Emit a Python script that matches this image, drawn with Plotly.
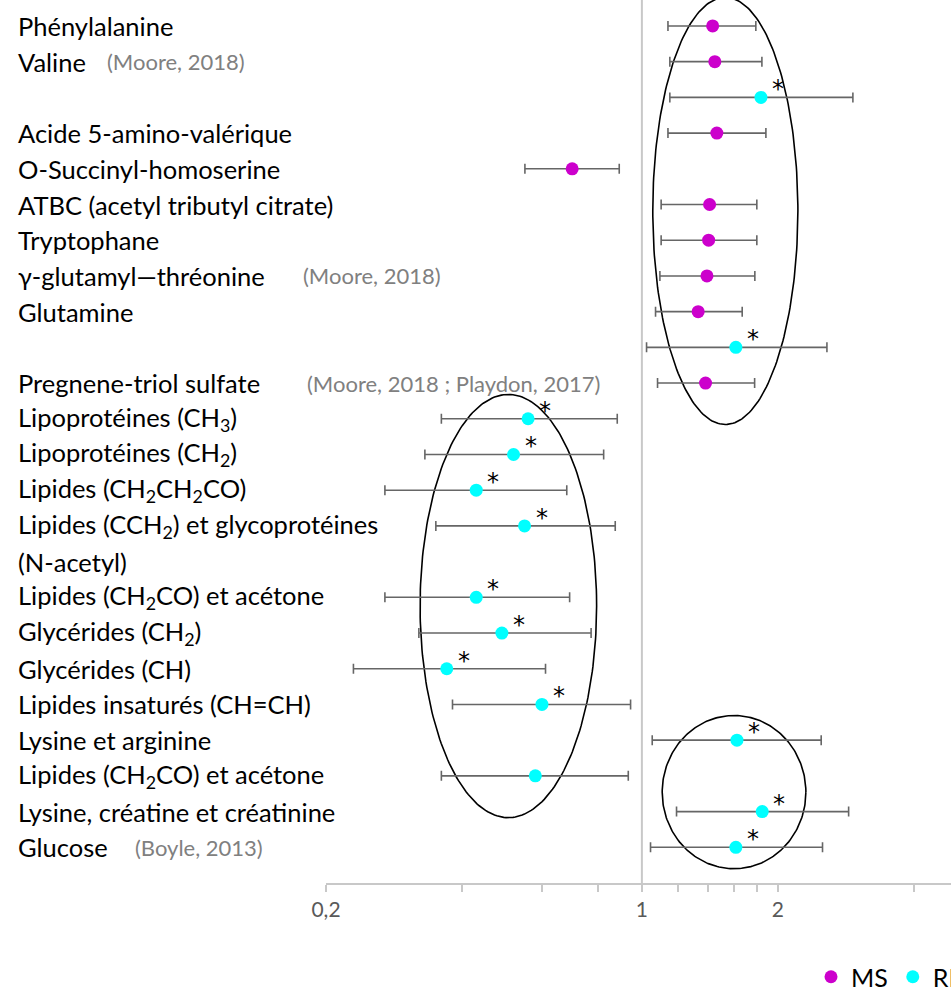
import math
import plotly.graph_objects as go

# ---------------- data ----------------
labels = [
    "Phénylalanine", "Valine", "", "Acide 5-amino-valérique", "O-Succinyl-homoserine",
    "ATBC (acetyl tributyl citrate)", "Tryptophane", "γ-glutamyl—thréonine", "Glutamine", "",
    "Pregnene-triol sulfate", "Lipoprotéines (CH<sub>3</sub>)", "Lipoprotéines (CH<sub>2</sub>)",
    "Lipides (CH<sub>2</sub>CH<sub>2</sub>CO)", "Lipides (CCH<sub>2</sub>) et glycoprotéines",
    "(N-acetyl)", "Lipides (CH<sub>2</sub>CO) et acétone", "Glycérides (CH<sub>2</sub>)",
    "Glycérides (CH)", "Lipides insaturés (CH=CH)", "Lysine et arginine",
    "Lipides (CH<sub>2</sub>CO) et acétone", "Lysine, créatine et créatinine", "Glucose",
]
references = {1: "(Moore, 2018)", 7: "(Moore, 2018)",
              10: "(Moore, 2018 ; Playdon, 2017)", 23: "(Boyle, 2013)"}
ref_x_px = {1: 105, 7: 301, 10: 305, 23: 133}

ms_rows = [0, 1, 3, 4, 5, 6, 7, 8, 10]
ms_val = [1.434, 1.450, 1.465, 0.701, 1.412, 1.405, 1.393, 1.332, 1.383]
ms_lo = [1.142, 1.153, 1.142, 0.551, 1.103, 1.103, 1.096, 1.072, 1.083]
ms_hi = [1.787, 1.843, 1.881, 0.891, 1.796, 1.796, 1.778, 1.667, 1.776]

rm_rows = [2, 9, 11, 12, 13, 14, 16, 17, 18, 19, 20, 21, 22, 23]
rm_val = [1.834, 1.614, 0.560, 0.520, 0.430, 0.550, 0.430, 0.490, 0.370, 0.601,
          1.623, 0.581, 1.846, 1.614]
rm_lo = [1.153, 1.024, 0.360, 0.331, 0.270, 0.350, 0.270, 0.321, 0.230, 0.381,
         1.054, 0.360, 1.193, 1.045]
rm_hi = [2.930, 2.567, 0.882, 0.823, 0.682, 0.873, 0.692, 0.772, 0.612, 0.944,
         2.493, 0.933, 2.867, 2.510]
rm_star = [True, True, True, True, True, True, True, True, True, True,
           True, False, True, True]

# group ellipses: (x min, x max, row min, row max)
groups = [(1.057, 2.214, -0.80, 11.16),
          (0.323, 0.794, 10.32, 22.17),
          (1.109, 2.306, 19.31, 23.60)]

tick_vals = [0.2, 1, 2]
tick_text = ["0,2", "1", "2"]
minor_vals = [0.4, 0.6, 0.8, 1.2, 1.4, 1.6, 1.8, 4]

x_min, x_max = 0.2, 4.83
row_top, row_bottom = -0.727, 24

# ---------------- layout constants ----------------
W, H = 951, 990
ML, MR, MT, MB = 326, 0, 0, 107
PW = W - ML - MR
PH = H - MT - MB
FONT = "Lato"
LAB_SIZE = 25.5
REF_SIZE = 22

fig = go.Figure()

# ellipses
for (xa, xb, ya, yb) in groups:
    cx = (math.log10(xa) + math.log10(xb)) / 2
    rx = (math.log10(xb) - math.log10(xa)) / 2
    cy = (ya + yb) / 2
    ry = (yb - ya) / 2
    n = 241
    ts = [2 * math.pi * i / (n - 1) for i in range(n)]
    fig.add_trace(go.Scatter(
        x=[10 ** (cx + rx * math.cos(t)) for t in ts],
        y=[cy + ry * math.sin(t) for t in ts],
        mode="lines", line=dict(color="black", width=1.6),
        showlegend=False, hoverinfo="skip"))

# vertical reference line at 1
fig.add_trace(go.Scatter(x=[1, 1], y=[row_top, row_bottom], mode="lines",
                         line=dict(color="#C8C8C8", width=2),
                         showlegend=False, hoverinfo="skip"))

err_style = dict(type="data", symmetric=False, color="#666666", thickness=1.6, width=5)

fig.add_trace(go.Scatter(
    x=ms_val, y=ms_rows, mode="markers", name="MS",
    marker=dict(color="#CC00CC", size=13),
    error_x=dict(array=[h - v for h, v in zip(ms_hi, ms_val)],
                 arrayminus=[v - l for v, l in zip(ms_val, ms_lo)], **err_style)))
fig.add_trace(go.Scatter(
    x=rm_val, y=rm_rows, mode="markers", name="RM",
    marker=dict(color="#00FFFF", size=13),
    error_x=dict(array=[h - v for h, v in zip(rm_hi, rm_val)],
                 arrayminus=[v - l for v, l in zip(rm_val, rm_lo)], **err_style)))

annotations = []
for i, lab in enumerate(labels):
    if lab:
        annotations.append(dict(
            xref="paper", yref="y", x=(16 - ML) / PW, y=i, text=lab,
            showarrow=False, xanchor="left", yanchor="middle",
            font=dict(family=FONT, size=LAB_SIZE, color="black")))
for i, ref in references.items():
    annotations.append(dict(
        xref="paper", yref="y", x=(ref_x_px[i] - ML) / PW, y=i, text=ref,
        showarrow=False, xanchor="left", yanchor="middle",
        font=dict(family=FONT, size=REF_SIZE, color="#808080")))
for r, v, s in zip(rm_rows, rm_val, rm_star):
    if s:
        annotations.append(dict(
            xref="x", yref="y", x=math.log10(v), y=r, text="*",
            showarrow=False, xanchor="center", yanchor="middle",
            xshift=17, yshift=8,
            font=dict(family="DejaVu Sans", size=24, color="black")))

fig.update_layout(
    width=W, height=H,
    margin=dict(l=ML, r=MR, t=MT, b=MB, autoexpand=False),
    paper_bgcolor="white", plot_bgcolor="white",
    font=dict(family=FONT),
    annotations=annotations,
    showlegend=True,
    legend=dict(orientation="h", x=(811 - ML) / PW, xanchor="left",
                y=-(977 - (H - MB)) / PH, yanchor="middle",
                font=dict(family=FONT, size=25, color="black"),
                itemwidth=30, tracegroupgap=0, bgcolor="rgba(0,0,0,0)"),
    xaxis=dict(type="log", range=[math.log10(x_min), math.log10(x_max)],
               tickmode="array", tickvals=tick_vals, ticktext=tick_text,
               ticks="outside", ticklen=7, tickcolor="#C8C8C8", tickwidth=1.5,
               showline=True, linecolor="#C8C8C8", linewidth=1.5,
               showgrid=False, zeroline=False,
               tickfont=dict(family=FONT, size=21, color="#595959"),
               minor=dict(tickmode="array", tickvals=minor_vals, ticks="outside",
                          ticklen=7, tickcolor="#C8C8C8", tickwidth=1.5, showgrid=False)),
    yaxis=dict(range=[row_bottom, row_top], showticklabels=False, showgrid=False,
               zeroline=False, showline=False, ticks=""),
)

fig.write_html("out.html", config={"displayModeBar": False},
               post_script="document.body.style.margin='0px';")
